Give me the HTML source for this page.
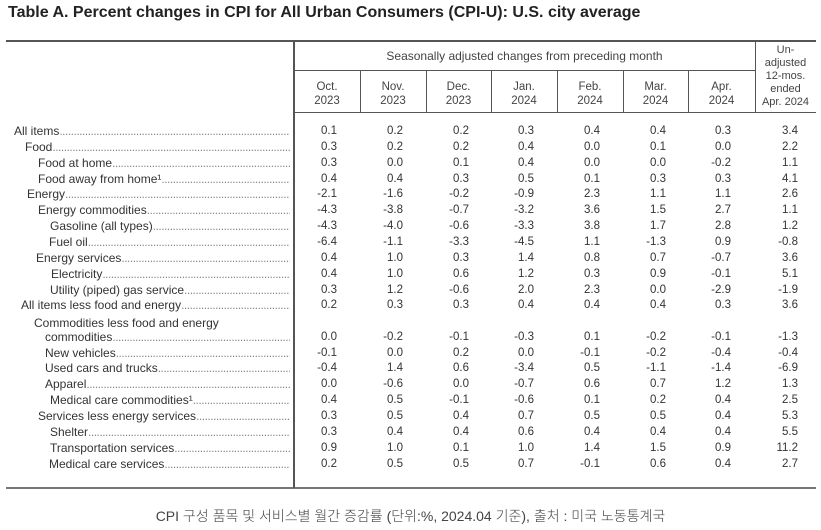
<!DOCTYPE html>
<html><head><meta charset="utf-8">
<style>
body{margin:0;background:#fff;width:821px;height:530px;overflow:hidden;position:relative;font-family:"Liberation Sans",Arial,sans-serif;color:#333}
.a{position:absolute;white-space:nowrap}
.h{font-size:11px;line-height:12px;text-align:center;color:#444}
.ln{position:absolute;background:#555}
.lab{position:absolute;font-size:12px;line-height:13px;overflow:hidden;white-space:nowrap;color:#333}
.lab span{color:#888;letter-spacing:-0.5px}
.num{position:absolute;font-size:11.5px;line-height:13px;text-align:right;width:40px;color:#333}
</style></head><body>
<div class="a" style="left:8px;top:4px;font-size:16px;font-weight:bold;color:#222">Table A. Percent changes in CPI for All Urban Consumers (CPI-U): U.S. city average</div>
<div class="ln" style="left:6px;top:40px;width:810px;height:2px"></div>
<div class="ln" style="left:6px;top:487px;width:810px;height:2px;background:#777"></div>
<div class="ln" style="left:293px;top:40px;width:1.5px;height:448px"></div>
<div class="ln" style="left:294px;top:70px;width:461px;height:1px"></div>
<div class="ln" style="left:294px;top:112px;width:522px;height:1px"></div>
<div class="a h" style="left:294px;width:461px;top:50px;font-size:12px">Seasonally adjusted changes from preceding month</div>
<div class="a h" style="left:755px;width:61px;top:44px;line-height:13px">Un-<br>adjusted<br>12-mos.<br>ended<br>Apr. 2024</div>
<div id="root"></div>
<div class="a" style="left:0;width:821px;text-align:center;top:506px;font-size:14px;color:#444;font-family:'Liberation Sans','Noto Sans CJK KR',sans-serif;font-weight:300">CPI 구성 품목 및 서비스별 월간 증감률 (단위:%, 2024.04 기준), 출처 : 미국 노동통계국</div>
<script>
const months=["Oct.|2023","Nov.|2023","Dec.|2023","Jan.|2024","Feb.|2024","Mar.|2024","Apr.|2024"];
const items=["All items","Food","Food at home","Food away from home¹","Energy","Energy commodities","Gasoline (all types)","Fuel oil","Energy services","Electricity","Utility (piped) gas service","All items less food and energy","commodities","New vehicles","Used cars and trucks","Apparel","Medical care commodities¹","Services less energy services","Shelter","Transportation services","Medical care services"];
const indents=[14,25,38,38,27,38,50,49,36,51,50,21,45,45,45,45,50,38,50,50,49];
const oct=[0.1,0.3,0.3,0.4,-2.1,-4.3,-4.3,-6.4,0.4,0.4,0.3,0.2,0.0,-0.1,-0.4,0.0,0.4,0.3,0.3,0.9,0.2];
const nov=[0.2,0.2,0.0,0.4,-1.6,-3.8,-4.0,-1.1,1.0,1.0,1.2,0.3,-0.2,0.0,1.4,-0.6,0.5,0.5,0.4,1.0,0.5];
const dec=[0.2,0.2,0.1,0.3,-0.2,-0.7,-0.6,-3.3,0.3,0.6,-0.6,0.3,-0.1,0.2,0.6,0.0,-0.1,0.4,0.4,0.1,0.5];
const jan=[0.3,0.4,0.4,0.5,-0.9,-3.2,-3.3,-4.5,1.4,1.2,2.0,0.4,-0.3,0.0,-3.4,-0.7,-0.6,0.7,0.6,1.0,0.7];
const feb=[0.4,0.0,0.0,0.1,2.3,3.6,3.8,1.1,0.8,0.3,2.3,0.4,0.1,-0.1,0.5,0.6,0.1,0.5,0.4,1.4,-0.1];
const mar=[0.4,0.1,0.0,0.3,1.1,1.5,1.7,-1.3,0.7,0.9,0.0,0.4,-0.2,-0.2,-1.1,0.7,0.2,0.5,0.4,1.5,0.6];
const apr=[0.3,0.0,-0.2,0.3,1.1,2.7,2.8,0.9,-0.7,-0.1,-2.9,0.3,-0.1,-0.4,-1.4,1.2,0.4,0.4,0.4,0.9,0.4];
const yoy=[3.4,2.2,1.1,4.1,2.6,1.1,1.2,-0.8,3.6,5.1,-1.9,3.6,-1.3,-0.4,-6.9,1.3,2.5,5.3,5.5,11.2,2.7];
const series=[oct,nov,dec,jan,feb,mar,apr,yoy];
const root=document.getElementById('root');
const dividers=[294,360,426,491,557,623,688,755];
function rowY(i){return 125+i*15.85+(i>=12?15.5:0);}
function colRight(c){return dividers[c]+66-23;}
months.forEach((m,c)=>{
  const d=document.createElement('div');
  d.className='a h';
  
  
  d.style.left=dividers[c]+'px';d.style.width=(dividers[c+1]-dividers[c])+'px';d.style.top='80px';d.style.lineHeight='14px';d.style.fontSize='11.5px';
  d.innerHTML=m.replace('|','<br>');
  root.appendChild(d);
  if(c>0){
    const l=document.createElement('div');
    l.className='ln';
    
    
    l.style.left=dividers[c]+'px';l.style.top='71px';l.style.width='1px';l.style.height='42px';
    root.appendChild(l);
  }
});
const l2=document.createElement('div');
l2.className='ln';


l2.style.left='755px';l2.style.top='40px';l2.style.width='1px';l2.style.height='73px';
root.appendChild(l2);
const sub=document.createElement('div');
sub.className='lab';


sub.style.left='34px';sub.style.top='317px';
sub.textContent='Commodities less food and energy';
root.appendChild(sub);
items.forEach((name,i)=>{
  const y=rowY(i);
  const lb=document.createElement('div');
  lb.className='lab';
  
  
  lb.style.left=indents[i]+'px';lb.style.top=y+'px';lb.style.width=(290-indents[i])+'px';
  lb.innerHTML=name+'<span>'+'.'.repeat(140)+'</span>';
  root.appendChild(lb);
  series.forEach((s,c)=>{
    const n=document.createElement('div');
    n.className='num';
    
    
    n.style.left=(colRight(c)-40)+'px';n.style.top=y+'px';
    n.textContent=s[i].toFixed(1);
    root.appendChild(n);
  });
});
</script>
</body></html>
